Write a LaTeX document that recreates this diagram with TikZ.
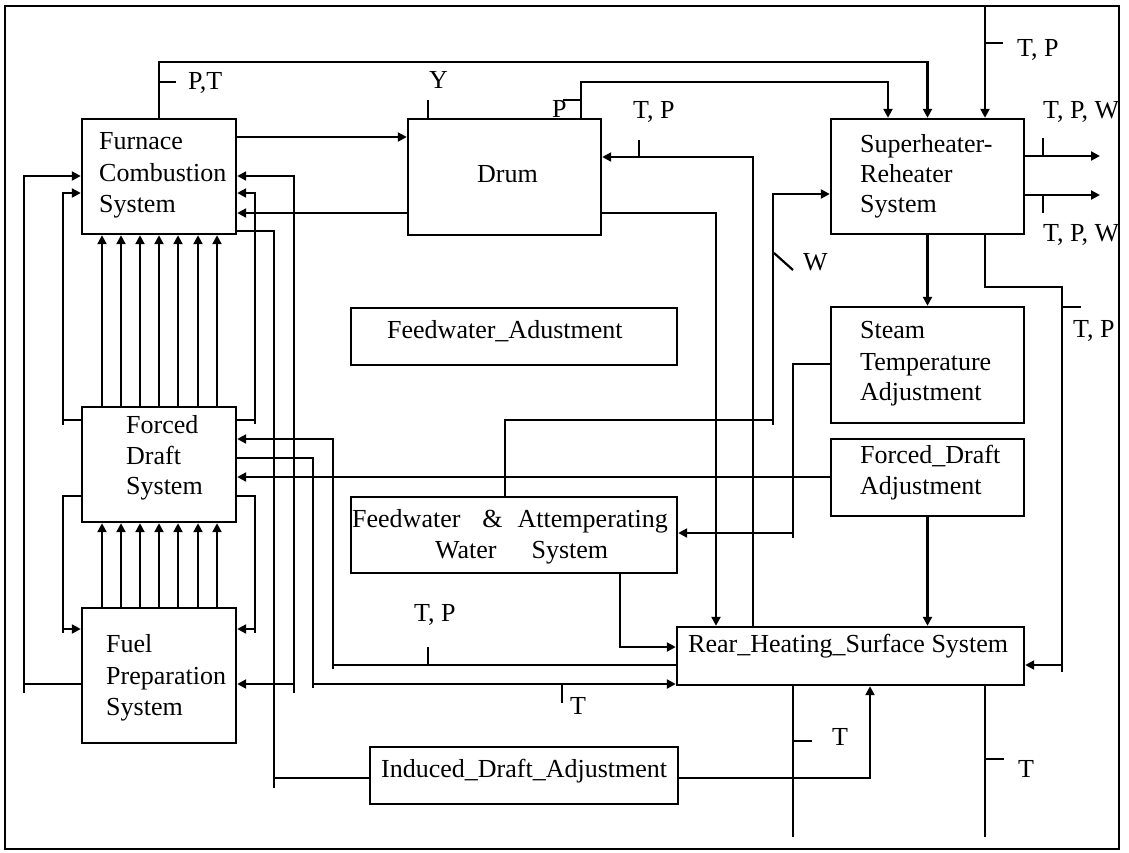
\documentclass[tikz,border=0pt]{standalone}
\usepackage{fontspec}
\setmainfont{Liberation Serif}
\usetikzlibrary{arrows.meta}
\begin{document}
\begin{tikzpicture}[x=1pt,y=-1pt,
  box/.style={draw, line width=2.4pt, inner sep=0pt},
  lbl/.style={anchor=base west, inner sep=0pt, font=\fontsize{26}{31}\selectfont},
  ln/.style={line width=2.2pt},
  arr/.style={ln, -{Triangle[length=9pt,width=9pt]}}]
\useasboundingbox (0,0) rectangle (1129,852);
\draw[line width=2.4pt] (5,6) rectangle (1119,849);

% boxes
\node[box, minimum width=154pt, minimum height=115pt] (furn) at (159,176.5) {};
\node[box, minimum width=154pt, minimum height=115pt] (fd) at (159,464.5) {};
\node[box, minimum width=154pt, minimum height=135pt] (fuel) at (159,675.5) {};
\node[box, minimum width=193pt, minimum height=116pt] (drum) at (504.5,177) {};
\node[box, minimum width=193pt, minimum height=115pt] (sh) at (927.5,176.5) {};
\node[box, minimum width=326pt, minimum height=57pt] (fwa) at (514,336.5) {};
\node[box, minimum width=193pt, minimum height=116pt] (sta) at (927.5,365) {};
\node[box, minimum width=193pt, minimum height=77pt] (fda) at (927.5,477.5) {};
\node[box, minimum width=326pt, minimum height=76pt] (fa) at (514,535) {};
\node[box, minimum width=347pt, minimum height=58pt] (rear) at (850.5,656) {};
\node[box, minimum width=308pt, minimum height=57pt] (ida) at (524,775.5) {};

% box texts
\node[lbl] (furnT1) at (99,149) {Furnace};
\node[lbl] (furnT2) at (99,181) {Combustion};
\node[lbl] (furnT3) at (99,212) {System};
\node[lbl] (fdT1) at (126,433) {Forced};
\node[lbl] (fdT2) at (126,464) {Draft};
\node[lbl] (fdT3) at (126,494) {System};
\node[lbl] (fuelT1) at (106,652) {Fuel};
\node[lbl] (fuelT2) at (106,684) {Preparation};
\node[lbl] (fuelT3) at (106,715) {System};
\node[lbl] (drumT) at (477,182) {Drum};
\node[lbl] (shT1) at (860,152) {Superheater-};
\node[lbl] (shT2) at (860,182) {Reheater};
\node[lbl] (shT3) at (860,212) {System};
\node[lbl] (fwaT) at (387,338) {Feedwater\_Adustment};
\node[lbl] (staT1) at (860,338) {Steam};
\node[lbl] (staT2) at (860,370) {Temperature};
\node[lbl] (staT3) at (860,400) {Adjustment};
\node[lbl] (fdaT1) at (860,463) {Forced\_Draft};
\node[lbl] (fdaT2) at (860,494) {Adjustment};
\node[lbl] (faT1) at (352,527) {Feedwater\hspace{22pt}\&\hspace{15pt}Attemperating};
\node[lbl] (faT2) at (435,558) {Water\hspace{35pt}System};
\node[lbl] (rearT) at (688,652) {Rear\_Heating\_Surface System};
\node[lbl] (idaT) at (381,777) {Induced\_Draft\_Adjustment};

% signal labels
\node[lbl] (lPT) at (188,89) {P,T};
\node[lbl] (lY) at (429,88) {Y};
\node[lbl] (lP) at (552,117) {P};
\node[lbl] (lTP1) at (633,118) {T, P};
\node[lbl] (lTP2) at (1017,56) {T, P};
\node[lbl] (lTPW1) at (1043,118) {T, P, W};
\node[lbl] (lTPW2) at (1043,241) {T, P, W};
\node[lbl] (lW) at (803,270) {W};
\node[lbl] (lTP3) at (1073,337) {T, P};
\node[lbl] (lTP4) at (414,621) {T, P};
\node[lbl] (lT1) at (570,714) {T};
\node[lbl] (lT2) at (832,745) {T};
\node[lbl] (lT3) at (1018,777) {T};

% Furnace <-> Drum
\draw[arr] (furn.east |- 0,137) -- (drum.west |- 0,137);
\draw[arr] (drum.west |- 0,213) -- (furn.east |- 0,213);
% Furnace -> Superheater (P,T)
\draw[arr] (furn.north) -- (159,62) -- (sh.north |- 0,62) -- (sh.north);
\draw[ln] (159,82) -- (176,82);
% Drum -> Superheater (P)
\draw[arr] (581,0 |- drum.north) -- (581,82) -- (888,82) -- (888,0 |- sh.north);
\draw[ln] (581,100) -- (563,100);
% Y
\draw[ln] (428,0 |- drum.north) -- (428,100);
% from frame top -> Superheater (T,P)
\coordinate (topin) at (985,6);
\draw[arr] (topin) -- (985,0 |- sh.north);
\draw[ln] (985,43) -- (1003,43);
% Superheater outputs
\coordinate (out1) at (1100,156);
\coordinate (out2) at (1100,195);
\draw[arr] (sh.east |- out1) -- (out1);
\draw[arr] (sh.east |- out2) -- (out2);
\draw[ln] (1043,138) -- (1043,156);
\draw[ln] (1043,195) -- (1043,213);
% Rear -> Drum (T,P)
\draw[arr] (753,0 |- rear.north) -- (753,157) -- (drum.east |- 0,157);
\draw[ln] (639,140) -- (639,157);
% Drum -> Rear
\draw[arr] (drum.east |- 0,213) -- (716,213) -- (716,0 |- rear.north);
% Feedwater & Attemperating -> Superheater (W)
\draw[arr] (505,0 |- fa.north) -- (505,420) -- (773,420) -- (773,194) -- (sh.west |- 0,194);
\draw[ln] (773,418) -- (773,425);
\draw[ln] (774,253) -- (793,270);
% Superheater -> Steam Temperature Adjustment
\draw[arr] (sh.south) -- (sta.north);
% Steam Temperature Adjustment -> Feedwater & Attemperating
\draw[arr] (sta.west |- 0,364) -- (793,364) -- (793,533) -- (fa.east |- 0,533);
\draw[ln] (793,531) -- (793,538);
% Superheater -> Rear (T,P)
\draw[arr] (985,0 |- sh.south) -- (985,287) -- (1062,287) -- (1062,665) -- (rear.east |- 0,665);
\draw[ln] (1062,663) -- (1062,672);
\draw[ln] (1062,307) -- (1081,307);
% Forced_Draft_Adjustment -> Forced Draft, Rear
\draw[arr] (fda.west |- 0,477) -- (fd.east |- 0,477);
\draw[arr] (fda.south) -- (fda.south |- rear.north);
% Feedwater & Attemperating -> Rear
\draw[arr] (620,0 |- fa.south) -- (620,647) -- (rear.west |- 0,647);
% Rear -> Forced Draft (T,P)
\draw[arr] (rear.west |- 0,665) -- (333,665) -- (333,439) -- (fd.east |- 0,439);
\draw[ln] (333,663) -- (333,669);
\draw[ln] (428,665) -- (428,647);
% Forced Draft -> Rear (T)
\draw[arr] (fd.east |- 0,458) -- (313,458) -- (313,684) -- (rear.west |- 0,684);
\draw[ln] (313,682) -- (313,688);
\draw[ln] (562,684) -- (562,703);
% Induced_Draft_Adjustment -> Rear
\draw[arr] (ida.east |- 0,778) -- (870,778) -- (870,0 |- rear.south);
% Induced_Draft_Adjustment -- Furnace
\draw[ln] (ida.west |- 0,778) -- (274,778);
\draw[ln] (furn.east |- 0,231) -- (274,231) -- (274,788);
% Rear outputs (T)
\coordinate (bot1) at (793,837);
\coordinate (bot2) at (985,837);
\draw[ln] (793,0 |- rear.south) -- (bot1);
\draw[ln] (793,741) -- (812,741);
\draw[ln] (985,0 |- rear.south) -- (bot2);
\draw[ln] (985,759) -- (1004,759);
% Fuel -> Furnace
\draw[arr] (fuel.west |- 0,684) -- (24,684) -- (24,176) -- (furn.west |- 0,176);
\draw[ln] (24,682) -- (24,693);
% Forced Draft -> Furnace
\draw[arr] (fd.west |- 0,420) -- (63,420) -- (63,193) -- (furn.west |- 0,193);
\draw[arr] (fd.east |- 0,420) -- (255,420) -- (255,193) -- (furn.east |- 0,193);
\draw[ln] (63,418) -- (63,425);
\draw[ln] (255,418) -- (255,424);
% Forced Draft -> Fuel
\draw[arr] (fd.west |- 0,496) -- (63,496) -- (63,629) -- (fuel.west |- 0,629);
\draw[arr] (fd.east |- 0,496) -- (255,496) -- (255,629) -- (fuel.east |- 0,629);
\draw[ln] (63,627) -- (63,633);
\draw[ln] (255,627) -- (255,633);
% bus to Furnace and Fuel
\coordinate (bus) at (294,693);
\draw[arr] (bus) -- (294,176) -- (furn.east |- 0,176);
\draw[arr] (294,684) -- (fuel.east |- 0,684);
% parallel arrows
\foreach \x in {102,121,140,159,178,198,217} {
  \draw[arr] (\x,0 |- fd.north) -- (\x,0 |- furn.south);
  \draw[arr] (\x,0 |- fuel.north) -- (\x,0 |- fd.south);
}
\end{tikzpicture}
\end{document}
